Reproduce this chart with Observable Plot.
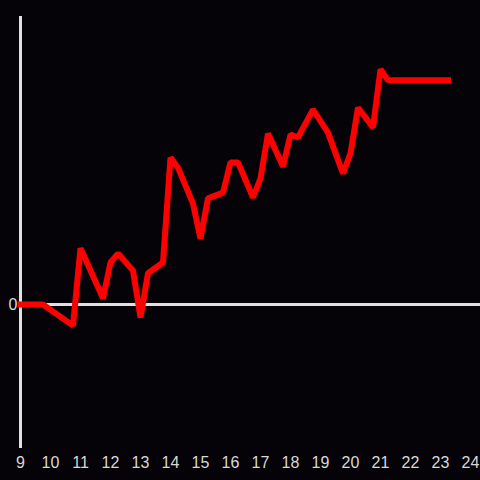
<!DOCTYPE html>
<html>
<head>
<meta charset="utf-8">
<script src="https://cdn.jsdelivr.net/npm/d3@7"></script>
<script src="https://cdn.jsdelivr.net/npm/@observablehq/plot@0.6"></script>
<style>
  html, body { margin: 0; padding: 0; background: #050307; }
  #chart { width: 480px; height: 480px; }
</style>
</head>
<body>
<div id="chart"></div>
<script>
const hours = [9.0, 9.75, 10.75, 11.0, 11.75, 12.0, 12.25, 12.75, 13.0, 13.25, 13.75, 14.0, 14.25, 14.75, 15.0, 15.25, 15.75, 16.0, 16.25, 16.75, 17.0, 17.25, 17.75, 18.0, 18.25, 18.75, 19.25, 19.75, 20.0, 20.25, 20.75, 21.0, 21.25, 23.25];
const values = [0, 0, -0.44, 1.17, 0.13, 0.875, 1.06, 0.71, -0.27, 0.65, 0.875, 3.06, 2.85, 2.10, 1.375, 2.21, 2.33, 2.96, 2.96, 2.23, 2.625, 3.56, 2.875, 3.54, 3.48, 4.06, 3.58, 2.73, 3.15, 4.10, 3.69, 4.9, 4.67, 4.67];
const xTicks = [9, 10, 11, 12, 13, 14, 15, 16, 17, 18, 19, 20, 21, 22, 23, 24];
const yTicks = [0];

const data = hours.map((h, i) => ({hour: h, value: values[i]}));

const chart = Plot.plot({
  width: 480,
  height: 480,
  marginLeft: 20,
  marginRight: 0,
  marginTop: 16,
  marginBottom: 32,
  style: {background: "#050307", color: "#dddddd", fontFamily: "Liberation Sans, Arial, sans-serif"},
  x: {domain: [9, 24 + 1/3], label: null},
  y: {domain: [-3, 6], label: null},
  marks: [
    Plot.axisX(xTicks, {tickSize: 0, tickPadding: 8, fontSize: 16, fill: "#d8d8d8", label: null, tickFormat: d => String(d)}),
    Plot.axisY(yTicks, {tickSize: 0, tickPadding: 3, fontSize: 16, fill: "#d8d8d8", label: null}),
    Plot.ruleY([0], {stroke: "#e0e0e0", strokeWidth: 3}),
    Plot.ruleX([9], {stroke: "#e0e0e0", strokeWidth: 3}),
    Plot.line(data, {x: "hour", y: "value", stroke: "#ff0000", strokeWidth: 6, strokeLinejoin: "miter", strokeLinecap: "square"})
  ]
});
document.getElementById("chart").appendChild(chart);
</script>
</body>
</html>
